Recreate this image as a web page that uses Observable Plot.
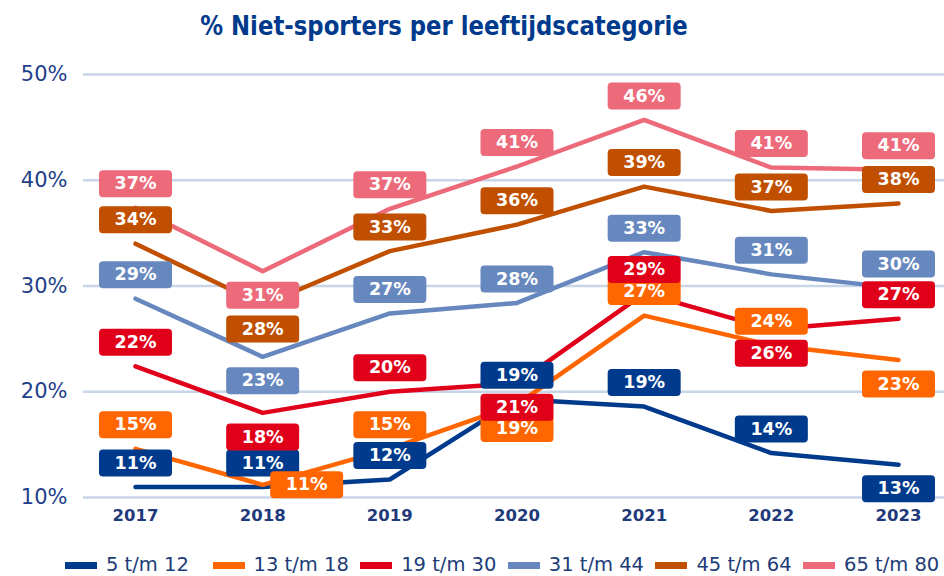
<!DOCTYPE html>
<html><head><meta charset="utf-8">
<script src="https://cdn.jsdelivr.net/npm/d3@7"></script>
<script src="https://cdn.jsdelivr.net/npm/@observablehq/plot@0.6"></script>
<style>
html,body{margin:0;padding:0;background:#fff;}
#wrap{position:relative;width:944px;height:576px;overflow:hidden;font-family:"DejaVu Sans",Verdana,sans-serif;}
#title{position:absolute;left:0;width:888px;top:12px;text-align:center;font-weight:bold;font-size:27px;line-height:27px;color:#003A8C;white-space:nowrap;transform:scaleX(0.845);transform-origin:50% 50%;}
#chart{position:absolute;left:0;top:0;}
#legend{position:absolute;left:65px;top:553px;height:24px;display:flex;}
.item{width:147.6px;display:flex;align-items:center;white-space:nowrap;}
.sw{width:32px;height:7px;margin-right:9px;flex:none;}
.lt{font-size:19.5px;line-height:24px;color:#203C78;}
</style></head><body>
<div id="wrap">
<div id="chart"></div>
<div id="title">% Niet-sporters per leeftijdscategorie</div>
<div id="legend"></div>
</div>
<script>
// ---- data ----
const years = [2017, 2018, 2019, 2020, 2021, 2022, 2023];
const seriesNames = ["5 t/m 12", "13 t/m 18", "19 t/m 30", "31 t/m 44", "45 t/m 64", "65 t/m 80"];
const seriesColors = ["#003A8C", "#FF6600", "#E1001A", "#6788BE", "#C04F00", "#EC6A7A"];
const yTicks = [10, 20, 30, 40, 50];

const v5_12  = [11.0, 11.0, 11.7, 19.3, 18.6, 14.2, 13.1];
const v13_18 = [14.6, 11.2, 14.6, 18.8, 27.2, 24.4, 23.0];
const v19_30 = [22.4, 18.0, 20.0, 20.8, 29.3, 25.9, 26.9];
const v31_44 = [28.8, 23.3, 27.4, 28.4, 33.2, 31.1, 29.8];
const v45_64 = [34.0, 28.2, 33.3, 35.8, 39.4, 37.1, 37.8];
const v65_80 = [37.4, 31.4, 37.3, 41.3, 45.7, 41.2, 41.0];

// label placement: a = above, b = below, r = right
const p5_12  = ["a","a","a","a","a","a","b"];
const p13_18 = ["a","r","a","b","a","a","b"];
const p19_30 = ["a","b","a","b","a","b","a"];
const p31_44 = ["a","b","a","a","a","a","a"];
const p45_64 = ["a","b","a","a","a","a","a"];
const p65_80 = ["a","b","a","a","a","a","a"];

const allValues = [v5_12, v13_18, v19_30, v31_44, v45_64, v65_80];
const allPlaces = [p5_12, p13_18, p19_30, p31_44, p45_64, p65_80];

const rows = [];
seriesNames.forEach((s, i) => years.forEach((yr, j) =>
  rows.push({series: s, year: yr, value: allValues[i][j], place: allPlaces[i][j]})));

const boxSymbol = {draw(ctx) {
  const w = 73, h = 27, r = 4;
  const x0 = -w/2, y0 = -h/2, x1 = w/2, y1 = h/2;
  ctx.moveTo(x0 + r, y0);
  ctx.lineTo(x1 - r, y0); ctx.arcTo(x1, y0, x1, y0 + r, r);
  ctx.lineTo(x1, y1 - r); ctx.arcTo(x1, y1, x1 - r, y1, r);
  ctx.lineTo(x0 + r, y1); ctx.arcTo(x0, y1, x0, y1 - r, r);
  ctx.lineTo(x0, y0 + r); ctx.arcTo(x0, y0, x0 + r, y0, r);
  ctx.closePath();
}};

const offsets = {a: [0, -24], b: [0, 24], r: [44, 0]};

const marks = [
  Plot.gridY(yTicks, {stroke: "#C8D4E7", strokeOpacity: 1, strokeWidth: 2.5}),
  Plot.axisY(yTicks, {tickSize: 0, tickPadding: 16, tickFormat: d => d + "%", fontSize: 21, fill: "#1F3F8A", label: null}),
  Plot.axisX(years, {tickSize: 0, tickPadding: 12, tickFormat: d => String(d), fontSize: 16.5, fontWeight: "bold", fill: "#1F3A7A", label: null}),
  Plot.line(rows, {x: "year", y: "value", z: "series", stroke: "series", strokeWidth: 4.5, strokeLinecap: "round", strokeLinejoin: "round"})
];
seriesNames.forEach(s => {
  ["a", "b", "r"].forEach(p => {
    const sub = rows.filter(d => d.series === s && d.place === p);
    if (!sub.length) return;
    const [dx, dy] = offsets[p];
    marks.push(Plot.dot(sub, {x: "year", y: "value", fill: "series", symbol: boxSymbol, r: 10, dx, dy}));
    marks.push(Plot.text(sub, {x: "year", y: "value", text: d => Math.round(d.value) + "%", dx, dy, fill: "white", fontWeight: "bold", fontSize: 17.5}));
  });
});

const chart = Plot.plot({
  width: 944, height: 576,
  marginLeft: 83, marginRight: 0, marginTop: 74, marginBottom: 79,
  style: {fontFamily: "'DejaVu Sans', Verdana, sans-serif", background: "white"},
  x: {domain: [2017, 2023], range: [135, 898]},
  y: {domain: [10, 50]},
  color: {domain: seriesNames, range: seriesColors},
  marks
});
document.getElementById("chart").appendChild(chart);

const legend = document.getElementById("legend");
seriesNames.forEach((s, i) => {
  const it = document.createElement("div"); it.className = "item";
  const sw = document.createElement("div"); sw.className = "sw"; sw.style.background = seriesColors[i];
  const t = document.createElement("span"); t.className = "lt"; t.textContent = s;
  it.appendChild(sw); it.appendChild(t); legend.appendChild(it);
});
</script>
</body></html>
